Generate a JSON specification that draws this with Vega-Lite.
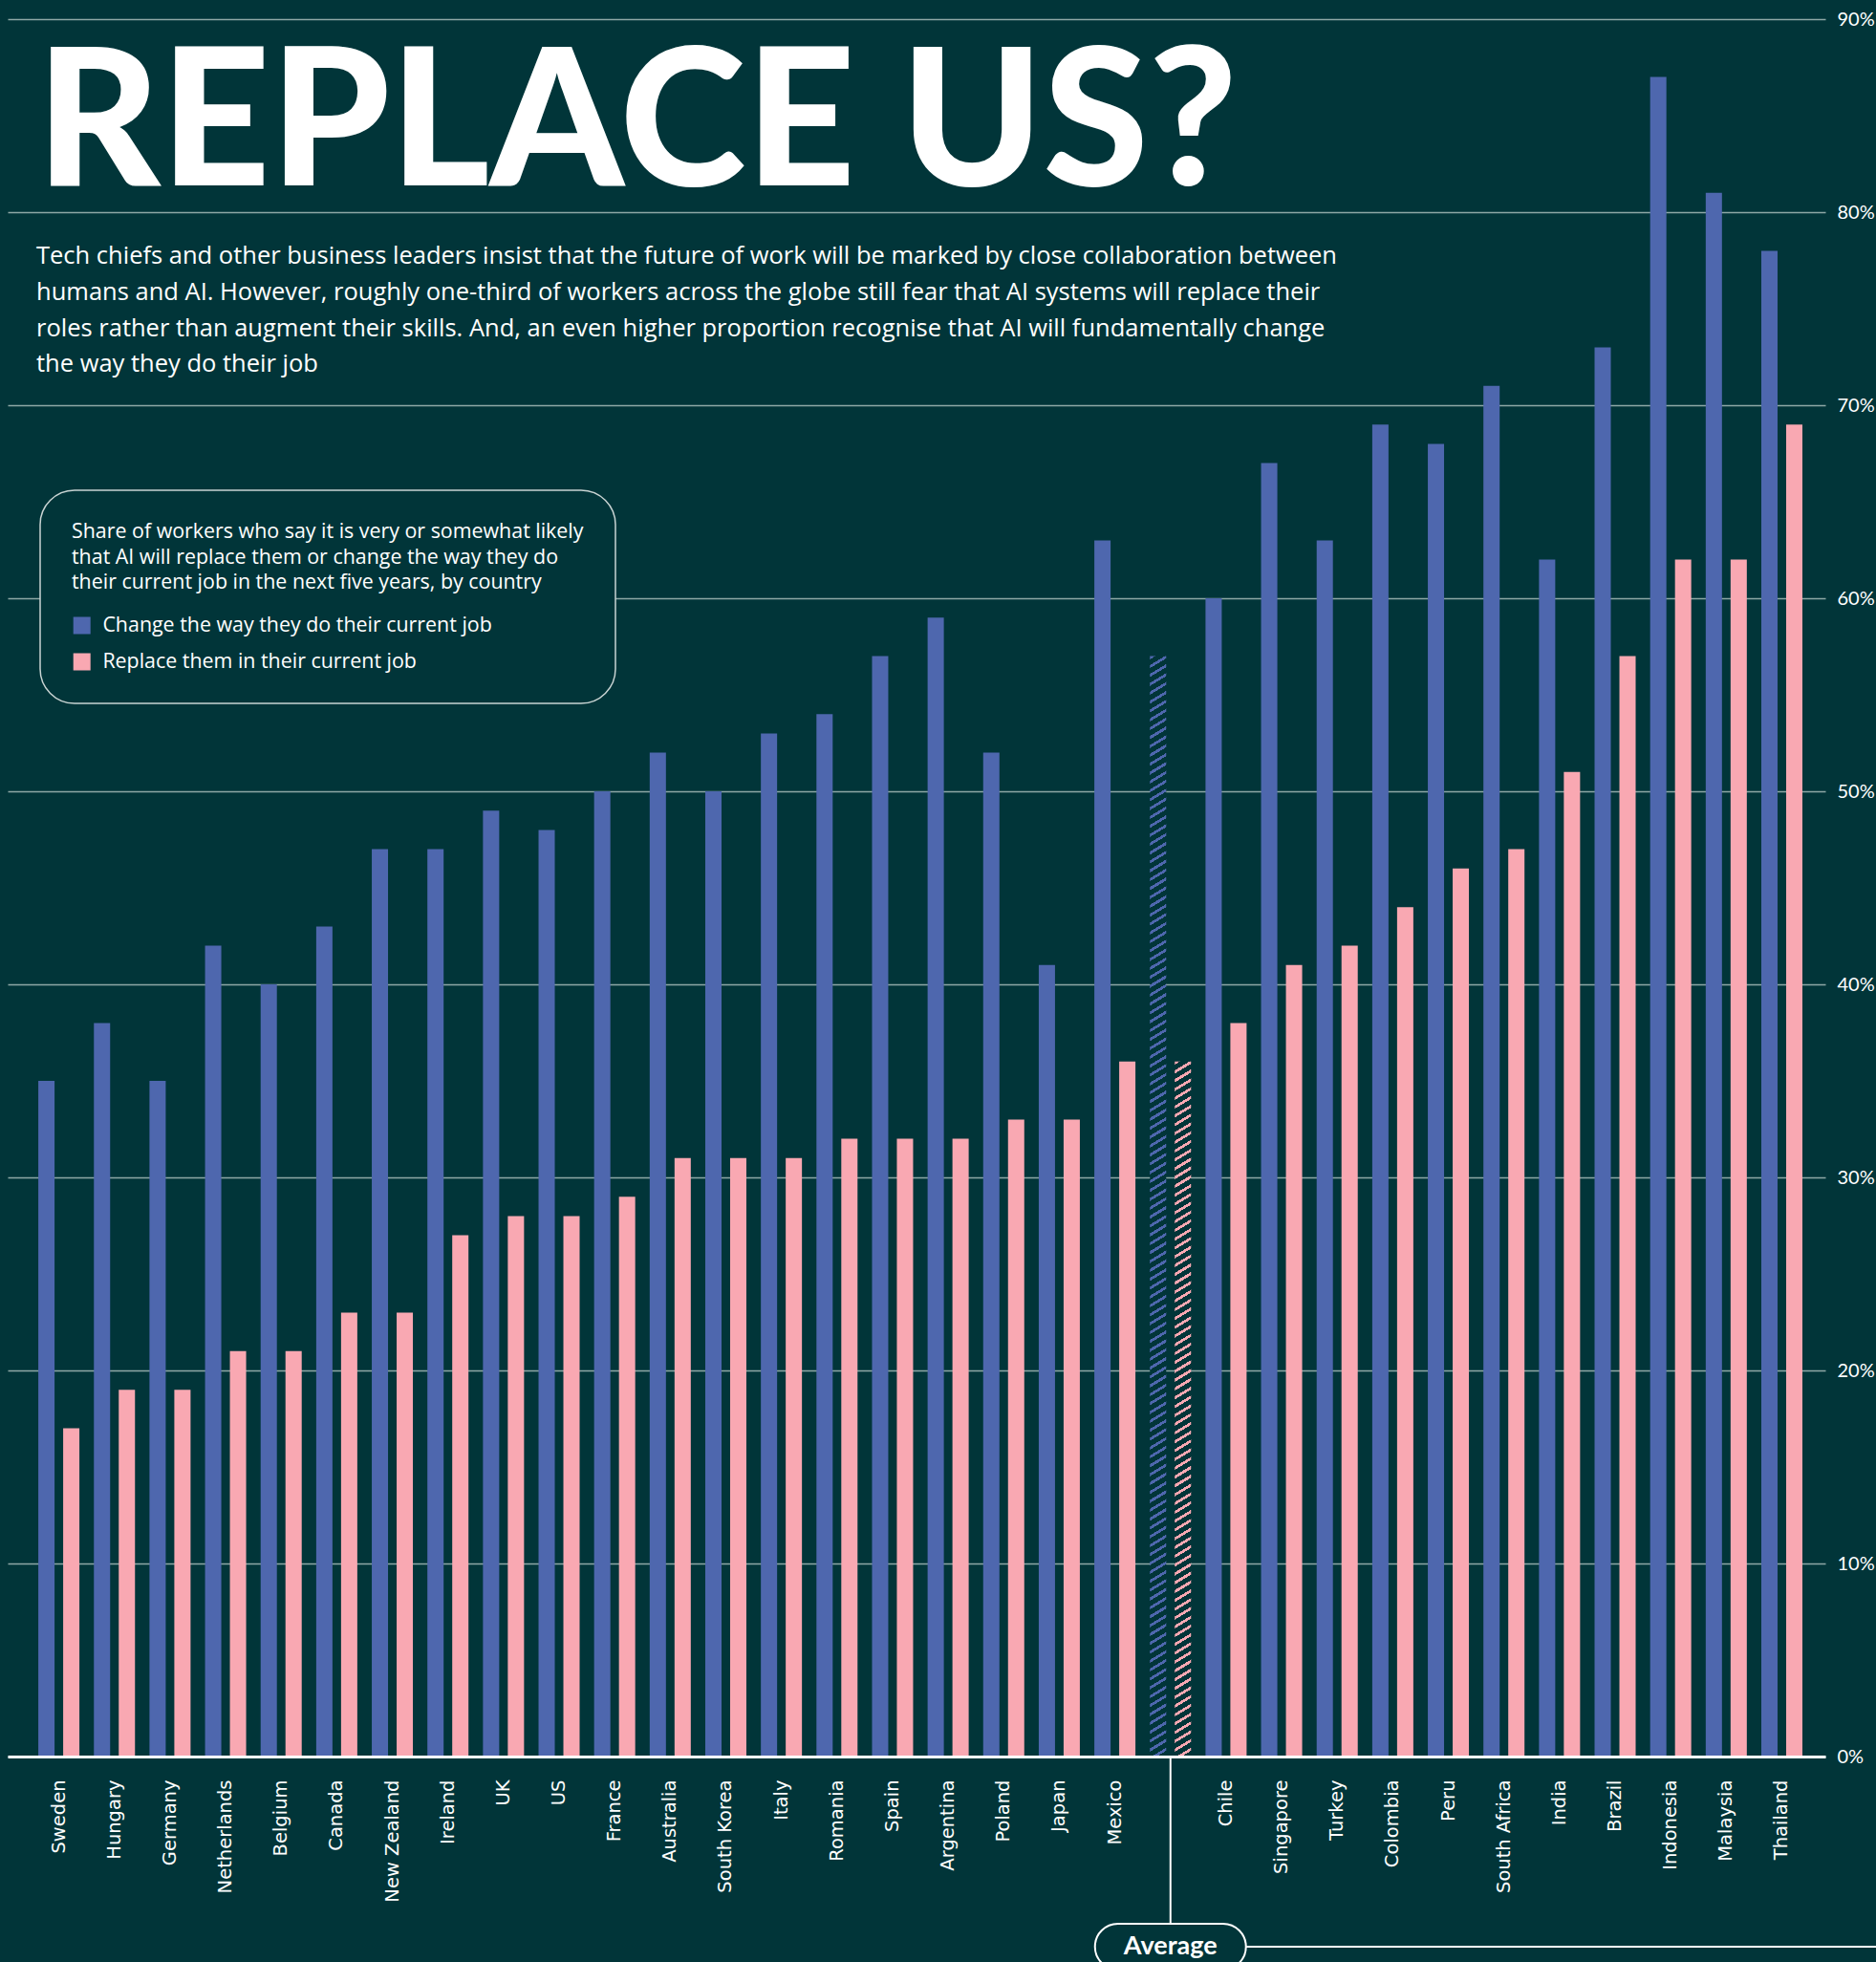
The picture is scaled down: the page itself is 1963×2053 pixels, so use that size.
{
  "$schema": "https://vega.github.io/schema/vega-lite/v6.json",
  "width": 1902,
  "height": 1818,
  "autosize": {"type": "none"},
  "padding": {"left": 8, "top": 20, "right": 53, "bottom": 215},
  "background": "#013539",
  "config": {"view": {"stroke": null}},
  "title": {
    "text": "REPLACE US?",
    "subtitle": [
      "Tech chiefs and other business leaders insist that the future of work will be marked by close collaboration between",
      "humans and AI. However, roughly one-third of workers across the globe still fear that AI systems will replace their",
      "roles rather than augment their skills. And, an even higher proportion recognise that AI will fundamentally change",
      "the way they do their job"
    ],
    "anchor": "start",
    "frame": "group",
    "orient": "top",
    "dx": 30,
    "dy": 387,
    "offset": 0,
    "font": "Lato",
    "fontSize": 200,
    "fontWeight": 900,
    "color": "#ffffff",
    "subtitleFont": "Open Sans",
    "subtitleFontSize": 25.5,
    "subtitleColor": "#ffffff",
    "subtitleLineHeight": 37.7,
    "subtitlePadding": 20
  },
  "data": {
    "values": [
      {"country": "Sweden", "change": 35, "replace": 17},
      {"country": "Hungary", "change": 38, "replace": 19},
      {"country": "Germany", "change": 35, "replace": 19},
      {"country": "Netherlands", "change": 42, "replace": 21},
      {"country": "Belgium", "change": 40, "replace": 21},
      {"country": "Canada", "change": 43, "replace": 23},
      {"country": "New Zealand", "change": 47, "replace": 23},
      {"country": "Ireland", "change": 47, "replace": 27},
      {"country": "UK", "change": 49, "replace": 28},
      {"country": "US", "change": 48, "replace": 28},
      {"country": "France", "change": 50, "replace": 29},
      {"country": "Australia", "change": 52, "replace": 31},
      {"country": "South Korea", "change": 50, "replace": 31},
      {"country": "Italy", "change": 53, "replace": 31},
      {"country": "Romania", "change": 54, "replace": 32},
      {"country": "Spain", "change": 57, "replace": 32},
      {"country": "Argentina", "change": 59, "replace": 32},
      {"country": "Poland", "change": 52, "replace": 33},
      {"country": "Japan", "change": 41, "replace": 33},
      {"country": "Mexico", "change": 63, "replace": 36},
      {"country": "Average", "change": 57, "replace": 36},
      {"country": "Chile", "change": 60, "replace": 38},
      {"country": "Singapore", "change": 67, "replace": 41},
      {"country": "Turkey", "change": 63, "replace": 42},
      {"country": "Colombia", "change": 69, "replace": 44},
      {"country": "Peru", "change": 68, "replace": 46},
      {"country": "South Africa", "change": 71, "replace": 47},
      {"country": "India", "change": 62, "replace": 51},
      {"country": "Brazil", "change": 73, "replace": 57},
      {"country": "Indonesia", "change": 87, "replace": 62},
      {"country": "Malaysia", "change": 81, "replace": 62},
      {"country": "Thailand", "change": 78, "replace": 69}
    ]
  },
  "transform": [{"fold": ["change", "replace"], "as": ["series", "value"]}],
  "encoding": {
    "x": {
      "field": "country",
      "type": "nominal",
      "sort": null,
      "scale": {
        "domain": ["Sweden", "Hungary", "Germany", "Netherlands", "Belgium", "Canada", "New Zealand", "Ireland", "UK", "US", "France", "Australia", "South Korea", "Italy", "Romania", "Spain", "Argentina", "Poland", "Japan", "Mexico", "Average", "Chile", "Singapore", "Turkey", "Colombia", "Peru", "South Africa", "India", "Brazil", "Indonesia", "Malaysia", "Thailand"],
        "paddingInner": 0.2607, "paddingOuter": 0.4823, "align": 0.572
      },
      "axis": {
        "title": null,
        "orient": "bottom",
        "labelAngle": -90,
        "labelAlign": "right",
        "labelBaseline": "middle",
        "labelPadding": 24,
        "ticks": false,
        "tickSize": 0,
        "domainColor": "#ffffff",
        "domainWidth": 3,
        "labelFont": "DejaVu Sans",
        "labelFontSize": 19.5,
        "labelColor": "#ffffff",
        "labelExpr": "datum.value === 'Average' ? '' : datum.value",
        "grid": false,
        "zindex": 1
      }
    },
    "y": {
      "field": "value",
      "type": "quantitative",
      "scale": {"domain": [0, 90], "nice": false},
      "axis": {
        "title": null,
        "orient": "right",
        "values": [0, 10, 20, 30, 40, 50, 60, 70, 80, 90],
        "labelExpr": "datum.value + '%'",
        "grid": true,
        "gridColor": "#8ea8a6",
        "gridWidth": 1.5,
        "domain": false,
        "ticks": false,
        "labelPadding": 12,
        "labelFont": "Lato",
        "labelFontSize": 20,
        "labelColor": "#ffffff",
        "labelBaseline": "middle"
      }
    }
  },
  "layer": [
    {
      "transform": [{"filter": "datum.country !== 'Average'"}],
      "mark": {"type": "bar"},
      "encoding": {
        "xOffset": {"field": "series", "type": "nominal", "scale": {"domain": ["change", "replace"], "paddingInner": 0.346, "paddingOuter": 0}},
        "color": {
          "field": "series",
          "type": "nominal",
          "scale": {"domain": ["change", "replace"], "range": ["#4e67ae", "#f9a8b2"]},
          "legend": {
            "orient": "none",
            "legendX": 34,
            "legendY": 493,
            "title": [
              "Share of workers who say it is very or somewhat likely",
              "that AI will replace them or change the way they do",
              "their current job in the next five years, by country"
            ],
            "titleFont": "Open Sans",
            "titleFontSize": 21.4,
            "titleFontWeight": "normal",
            "titleColor": "#ffffff",
            "titleLineHeight": 26.7,
            "titlePadding": 23,
            "titleLimit": 0,
            "labelFont": "Open Sans",
            "labelFontSize": 21.4,
            "labelColor": "#ffffff",
            "labelLimit": 0,
            "labelOffset": 11,
            "labelExpr": "datum.value === 'change' ? 'Change the way they do their current job' : 'Replace them in their current job'",
            "symbolType": "square",
            "symbolSize": 324,
            "symbolStrokeWidth": 0,
            "symbolOpacity": 1,
            "rowPadding": 15,
            "padding": 33,
            "cornerRadius": 36,
            "strokeColor": "#c9d4d3",
            "fillColor": "#013539",
            "encode": {"legend": {"update": {"strokeWidth": {"value": 1.5}}}}
          }
        }
      }
    },
    {
      "transform": [{"filter": "datum.country === 'Average' && datum.series === 'change'"}],
      "mark": {
        "type": "bar",
        "fill": {
          "gradient": "linear",
          "x1": 0, "y1": 0, "x2": 0.008936, "y2": 1.008779,
          "stops": [
            {"offset":0,"color":"#4e67ae"},{"offset":0.0028,"color":"#4e67ae"},{"offset":0.0028,"color":"#013539"},{"offset":0.008,"color":"#013539"},
            {"offset":0.008,"color":"#4e67ae"},{"offset":0.0108,"color":"#4e67ae"},{"offset":0.0108,"color":"#013539"},{"offset":0.016,"color":"#013539"},
            {"offset":0.016,"color":"#4e67ae"},{"offset":0.0188,"color":"#4e67ae"},{"offset":0.0188,"color":"#013539"},{"offset":0.024,"color":"#013539"},
            {"offset":0.024,"color":"#4e67ae"},{"offset":0.0268,"color":"#4e67ae"},{"offset":0.0268,"color":"#013539"},{"offset":0.032,"color":"#013539"},
            {"offset":0.032,"color":"#4e67ae"},{"offset":0.0348,"color":"#4e67ae"},{"offset":0.0348,"color":"#013539"},{"offset":0.04,"color":"#013539"},
            {"offset":0.04,"color":"#4e67ae"},{"offset":0.0428,"color":"#4e67ae"},{"offset":0.0428,"color":"#013539"},{"offset":0.048,"color":"#013539"},
            {"offset":0.048,"color":"#4e67ae"},{"offset":0.0508,"color":"#4e67ae"},{"offset":0.0508,"color":"#013539"},{"offset":0.056,"color":"#013539"},
            {"offset":0.056,"color":"#4e67ae"},{"offset":0.0588,"color":"#4e67ae"},{"offset":0.0588,"color":"#013539"},{"offset":0.064,"color":"#013539"},
            {"offset":0.064,"color":"#4e67ae"},{"offset":0.0668,"color":"#4e67ae"},{"offset":0.0668,"color":"#013539"},{"offset":0.072,"color":"#013539"},
            {"offset":0.072,"color":"#4e67ae"},{"offset":0.0748,"color":"#4e67ae"},{"offset":0.0748,"color":"#013539"},{"offset":0.08,"color":"#013539"},
            {"offset":0.08,"color":"#4e67ae"},{"offset":0.0828,"color":"#4e67ae"},{"offset":0.0828,"color":"#013539"},{"offset":0.088,"color":"#013539"},
            {"offset":0.088,"color":"#4e67ae"},{"offset":0.0908,"color":"#4e67ae"},{"offset":0.0908,"color":"#013539"},{"offset":0.096,"color":"#013539"},
            {"offset":0.096,"color":"#4e67ae"},{"offset":0.0988,"color":"#4e67ae"},{"offset":0.0988,"color":"#013539"},{"offset":0.104,"color":"#013539"},
            {"offset":0.104,"color":"#4e67ae"},{"offset":0.1068,"color":"#4e67ae"},{"offset":0.1068,"color":"#013539"},{"offset":0.112,"color":"#013539"},
            {"offset":0.112,"color":"#4e67ae"},{"offset":0.1148,"color":"#4e67ae"},{"offset":0.1148,"color":"#013539"},{"offset":0.12,"color":"#013539"},
            {"offset":0.12,"color":"#4e67ae"},{"offset":0.1228,"color":"#4e67ae"},{"offset":0.1228,"color":"#013539"},{"offset":0.128,"color":"#013539"},
            {"offset":0.128,"color":"#4e67ae"},{"offset":0.1308,"color":"#4e67ae"},{"offset":0.1308,"color":"#013539"},{"offset":0.136,"color":"#013539"},
            {"offset":0.136,"color":"#4e67ae"},{"offset":0.1388,"color":"#4e67ae"},{"offset":0.1388,"color":"#013539"},{"offset":0.144,"color":"#013539"},
            {"offset":0.144,"color":"#4e67ae"},{"offset":0.1468,"color":"#4e67ae"},{"offset":0.1468,"color":"#013539"},{"offset":0.152,"color":"#013539"},
            {"offset":0.152,"color":"#4e67ae"},{"offset":0.1548,"color":"#4e67ae"},{"offset":0.1548,"color":"#013539"},{"offset":0.16,"color":"#013539"},
            {"offset":0.16,"color":"#4e67ae"},{"offset":0.1628,"color":"#4e67ae"},{"offset":0.1628,"color":"#013539"},{"offset":0.168,"color":"#013539"},
            {"offset":0.168,"color":"#4e67ae"},{"offset":0.1708,"color":"#4e67ae"},{"offset":0.1708,"color":"#013539"},{"offset":0.176,"color":"#013539"},
            {"offset":0.176,"color":"#4e67ae"},{"offset":0.1788,"color":"#4e67ae"},{"offset":0.1788,"color":"#013539"},{"offset":0.184,"color":"#013539"},
            {"offset":0.184,"color":"#4e67ae"},{"offset":0.1868,"color":"#4e67ae"},{"offset":0.1868,"color":"#013539"},{"offset":0.192,"color":"#013539"},
            {"offset":0.192,"color":"#4e67ae"},{"offset":0.1948,"color":"#4e67ae"},{"offset":0.1948,"color":"#013539"},{"offset":0.2,"color":"#013539"},
            {"offset":0.2,"color":"#4e67ae"},{"offset":0.2028,"color":"#4e67ae"},{"offset":0.2028,"color":"#013539"},{"offset":0.208,"color":"#013539"},
            {"offset":0.208,"color":"#4e67ae"},{"offset":0.2108,"color":"#4e67ae"},{"offset":0.2108,"color":"#013539"},{"offset":0.216,"color":"#013539"},
            {"offset":0.216,"color":"#4e67ae"},{"offset":0.2188,"color":"#4e67ae"},{"offset":0.2188,"color":"#013539"},{"offset":0.224,"color":"#013539"},
            {"offset":0.224,"color":"#4e67ae"},{"offset":0.2268,"color":"#4e67ae"},{"offset":0.2268,"color":"#013539"},{"offset":0.232,"color":"#013539"},
            {"offset":0.232,"color":"#4e67ae"},{"offset":0.2348,"color":"#4e67ae"},{"offset":0.2348,"color":"#013539"},{"offset":0.24,"color":"#013539"},
            {"offset":0.24,"color":"#4e67ae"},{"offset":0.2428,"color":"#4e67ae"},{"offset":0.2428,"color":"#013539"},{"offset":0.248,"color":"#013539"},
            {"offset":0.248,"color":"#4e67ae"},{"offset":0.2508,"color":"#4e67ae"},{"offset":0.2508,"color":"#013539"},{"offset":0.256,"color":"#013539"},
            {"offset":0.256,"color":"#4e67ae"},{"offset":0.2588,"color":"#4e67ae"},{"offset":0.2588,"color":"#013539"},{"offset":0.264,"color":"#013539"},
            {"offset":0.264,"color":"#4e67ae"},{"offset":0.2668,"color":"#4e67ae"},{"offset":0.2668,"color":"#013539"},{"offset":0.272,"color":"#013539"},
            {"offset":0.272,"color":"#4e67ae"},{"offset":0.2748,"color":"#4e67ae"},{"offset":0.2748,"color":"#013539"},{"offset":0.28,"color":"#013539"},
            {"offset":0.28,"color":"#4e67ae"},{"offset":0.2828,"color":"#4e67ae"},{"offset":0.2828,"color":"#013539"},{"offset":0.288,"color":"#013539"},
            {"offset":0.288,"color":"#4e67ae"},{"offset":0.2908,"color":"#4e67ae"},{"offset":0.2908,"color":"#013539"},{"offset":0.296,"color":"#013539"},
            {"offset":0.296,"color":"#4e67ae"},{"offset":0.2988,"color":"#4e67ae"},{"offset":0.2988,"color":"#013539"},{"offset":0.304,"color":"#013539"},
            {"offset":0.304,"color":"#4e67ae"},{"offset":0.3068,"color":"#4e67ae"},{"offset":0.3068,"color":"#013539"},{"offset":0.312,"color":"#013539"},
            {"offset":0.312,"color":"#4e67ae"},{"offset":0.3148,"color":"#4e67ae"},{"offset":0.3148,"color":"#013539"},{"offset":0.32,"color":"#013539"},
            {"offset":0.32,"color":"#4e67ae"},{"offset":0.3228,"color":"#4e67ae"},{"offset":0.3228,"color":"#013539"},{"offset":0.328,"color":"#013539"},
            {"offset":0.328,"color":"#4e67ae"},{"offset":0.3308,"color":"#4e67ae"},{"offset":0.3308,"color":"#013539"},{"offset":0.336,"color":"#013539"},
            {"offset":0.336,"color":"#4e67ae"},{"offset":0.3388,"color":"#4e67ae"},{"offset":0.3388,"color":"#013539"},{"offset":0.344,"color":"#013539"},
            {"offset":0.344,"color":"#4e67ae"},{"offset":0.3468,"color":"#4e67ae"},{"offset":0.3468,"color":"#013539"},{"offset":0.352,"color":"#013539"},
            {"offset":0.352,"color":"#4e67ae"},{"offset":0.3548,"color":"#4e67ae"},{"offset":0.3548,"color":"#013539"},{"offset":0.36,"color":"#013539"},
            {"offset":0.36,"color":"#4e67ae"},{"offset":0.3628,"color":"#4e67ae"},{"offset":0.3628,"color":"#013539"},{"offset":0.368,"color":"#013539"},
            {"offset":0.368,"color":"#4e67ae"},{"offset":0.3708,"color":"#4e67ae"},{"offset":0.3708,"color":"#013539"},{"offset":0.376,"color":"#013539"},
            {"offset":0.376,"color":"#4e67ae"},{"offset":0.3788,"color":"#4e67ae"},{"offset":0.3788,"color":"#013539"},{"offset":0.384,"color":"#013539"},
            {"offset":0.384,"color":"#4e67ae"},{"offset":0.3868,"color":"#4e67ae"},{"offset":0.3868,"color":"#013539"},{"offset":0.392,"color":"#013539"},
            {"offset":0.392,"color":"#4e67ae"},{"offset":0.3948,"color":"#4e67ae"},{"offset":0.3948,"color":"#013539"},{"offset":0.4,"color":"#013539"},
            {"offset":0.4,"color":"#4e67ae"},{"offset":0.4028,"color":"#4e67ae"},{"offset":0.4028,"color":"#013539"},{"offset":0.408,"color":"#013539"},
            {"offset":0.408,"color":"#4e67ae"},{"offset":0.4108,"color":"#4e67ae"},{"offset":0.4108,"color":"#013539"},{"offset":0.416,"color":"#013539"},
            {"offset":0.416,"color":"#4e67ae"},{"offset":0.4188,"color":"#4e67ae"},{"offset":0.4188,"color":"#013539"},{"offset":0.424,"color":"#013539"},
            {"offset":0.424,"color":"#4e67ae"},{"offset":0.4268,"color":"#4e67ae"},{"offset":0.4268,"color":"#013539"},{"offset":0.432,"color":"#013539"},
            {"offset":0.432,"color":"#4e67ae"},{"offset":0.4348,"color":"#4e67ae"},{"offset":0.4348,"color":"#013539"},{"offset":0.44,"color":"#013539"},
            {"offset":0.44,"color":"#4e67ae"},{"offset":0.4428,"color":"#4e67ae"},{"offset":0.4428,"color":"#013539"},{"offset":0.448,"color":"#013539"},
            {"offset":0.448,"color":"#4e67ae"},{"offset":0.4508,"color":"#4e67ae"},{"offset":0.4508,"color":"#013539"},{"offset":0.456,"color":"#013539"},
            {"offset":0.456,"color":"#4e67ae"},{"offset":0.4588,"color":"#4e67ae"},{"offset":0.4588,"color":"#013539"},{"offset":0.464,"color":"#013539"},
            {"offset":0.464,"color":"#4e67ae"},{"offset":0.4668,"color":"#4e67ae"},{"offset":0.4668,"color":"#013539"},{"offset":0.472,"color":"#013539"},
            {"offset":0.472,"color":"#4e67ae"},{"offset":0.4748,"color":"#4e67ae"},{"offset":0.4748,"color":"#013539"},{"offset":0.48,"color":"#013539"},
            {"offset":0.48,"color":"#4e67ae"},{"offset":0.4828,"color":"#4e67ae"},{"offset":0.4828,"color":"#013539"},{"offset":0.488,"color":"#013539"},
            {"offset":0.488,"color":"#4e67ae"},{"offset":0.4908,"color":"#4e67ae"},{"offset":0.4908,"color":"#013539"},{"offset":0.496,"color":"#013539"},
            {"offset":0.496,"color":"#4e67ae"},{"offset":0.4988,"color":"#4e67ae"},{"offset":0.4988,"color":"#013539"},{"offset":0.504,"color":"#013539"},
            {"offset":0.504,"color":"#4e67ae"},{"offset":0.5068,"color":"#4e67ae"},{"offset":0.5068,"color":"#013539"},{"offset":0.512,"color":"#013539"},
            {"offset":0.512,"color":"#4e67ae"},{"offset":0.5148,"color":"#4e67ae"},{"offset":0.5148,"color":"#013539"},{"offset":0.52,"color":"#013539"},
            {"offset":0.52,"color":"#4e67ae"},{"offset":0.5228,"color":"#4e67ae"},{"offset":0.5228,"color":"#013539"},{"offset":0.528,"color":"#013539"},
            {"offset":0.528,"color":"#4e67ae"},{"offset":0.5308,"color":"#4e67ae"},{"offset":0.5308,"color":"#013539"},{"offset":0.536,"color":"#013539"},
            {"offset":0.536,"color":"#4e67ae"},{"offset":0.5388,"color":"#4e67ae"},{"offset":0.5388,"color":"#013539"},{"offset":0.544,"color":"#013539"},
            {"offset":0.544,"color":"#4e67ae"},{"offset":0.5468,"color":"#4e67ae"},{"offset":0.5468,"color":"#013539"},{"offset":0.552,"color":"#013539"},
            {"offset":0.552,"color":"#4e67ae"},{"offset":0.5548,"color":"#4e67ae"},{"offset":0.5548,"color":"#013539"},{"offset":0.56,"color":"#013539"},
            {"offset":0.56,"color":"#4e67ae"},{"offset":0.5628,"color":"#4e67ae"},{"offset":0.5628,"color":"#013539"},{"offset":0.568,"color":"#013539"},
            {"offset":0.568,"color":"#4e67ae"},{"offset":0.5708,"color":"#4e67ae"},{"offset":0.5708,"color":"#013539"},{"offset":0.576,"color":"#013539"},
            {"offset":0.576,"color":"#4e67ae"},{"offset":0.5788,"color":"#4e67ae"},{"offset":0.5788,"color":"#013539"},{"offset":0.584,"color":"#013539"},
            {"offset":0.584,"color":"#4e67ae"},{"offset":0.5868,"color":"#4e67ae"},{"offset":0.5868,"color":"#013539"},{"offset":0.592,"color":"#013539"},
            {"offset":0.592,"color":"#4e67ae"},{"offset":0.5948,"color":"#4e67ae"},{"offset":0.5948,"color":"#013539"},{"offset":0.6,"color":"#013539"},
            {"offset":0.6,"color":"#4e67ae"},{"offset":0.6028,"color":"#4e67ae"},{"offset":0.6028,"color":"#013539"},{"offset":0.608,"color":"#013539"},
            {"offset":0.608,"color":"#4e67ae"},{"offset":0.6108,"color":"#4e67ae"},{"offset":0.6108,"color":"#013539"},{"offset":0.616,"color":"#013539"},
            {"offset":0.616,"color":"#4e67ae"},{"offset":0.6188,"color":"#4e67ae"},{"offset":0.6188,"color":"#013539"},{"offset":0.624,"color":"#013539"},
            {"offset":0.624,"color":"#4e67ae"},{"offset":0.6268,"color":"#4e67ae"},{"offset":0.6268,"color":"#013539"},{"offset":0.632,"color":"#013539"},
            {"offset":0.632,"color":"#4e67ae"},{"offset":0.6348,"color":"#4e67ae"},{"offset":0.6348,"color":"#013539"},{"offset":0.64,"color":"#013539"},
            {"offset":0.64,"color":"#4e67ae"},{"offset":0.6428,"color":"#4e67ae"},{"offset":0.6428,"color":"#013539"},{"offset":0.648,"color":"#013539"},
            {"offset":0.648,"color":"#4e67ae"},{"offset":0.6508,"color":"#4e67ae"},{"offset":0.6508,"color":"#013539"},{"offset":0.656,"color":"#013539"},
            {"offset":0.656,"color":"#4e67ae"},{"offset":0.6588,"color":"#4e67ae"},{"offset":0.6588,"color":"#013539"},{"offset":0.664,"color":"#013539"},
            {"offset":0.664,"color":"#4e67ae"},{"offset":0.6668,"color":"#4e67ae"},{"offset":0.6668,"color":"#013539"},{"offset":0.672,"color":"#013539"},
            {"offset":0.672,"color":"#4e67ae"},{"offset":0.6748,"color":"#4e67ae"},{"offset":0.6748,"color":"#013539"},{"offset":0.68,"color":"#013539"},
            {"offset":0.68,"color":"#4e67ae"},{"offset":0.6828,"color":"#4e67ae"},{"offset":0.6828,"color":"#013539"},{"offset":0.688,"color":"#013539"},
            {"offset":0.688,"color":"#4e67ae"},{"offset":0.6908,"color":"#4e67ae"},{"offset":0.6908,"color":"#013539"},{"offset":0.696,"color":"#013539"},
            {"offset":0.696,"color":"#4e67ae"},{"offset":0.6988,"color":"#4e67ae"},{"offset":0.6988,"color":"#013539"},{"offset":0.704,"color":"#013539"},
            {"offset":0.704,"color":"#4e67ae"},{"offset":0.7068,"color":"#4e67ae"},{"offset":0.7068,"color":"#013539"},{"offset":0.712,"color":"#013539"},
            {"offset":0.712,"color":"#4e67ae"},{"offset":0.7148,"color":"#4e67ae"},{"offset":0.7148,"color":"#013539"},{"offset":0.72,"color":"#013539"},
            {"offset":0.72,"color":"#4e67ae"},{"offset":0.7228,"color":"#4e67ae"},{"offset":0.7228,"color":"#013539"},{"offset":0.728,"color":"#013539"},
            {"offset":0.728,"color":"#4e67ae"},{"offset":0.7308,"color":"#4e67ae"},{"offset":0.7308,"color":"#013539"},{"offset":0.736,"color":"#013539"},
            {"offset":0.736,"color":"#4e67ae"},{"offset":0.7388,"color":"#4e67ae"},{"offset":0.7388,"color":"#013539"},{"offset":0.744,"color":"#013539"},
            {"offset":0.744,"color":"#4e67ae"},{"offset":0.7468,"color":"#4e67ae"},{"offset":0.7468,"color":"#013539"},{"offset":0.752,"color":"#013539"},
            {"offset":0.752,"color":"#4e67ae"},{"offset":0.7548,"color":"#4e67ae"},{"offset":0.7548,"color":"#013539"},{"offset":0.76,"color":"#013539"},
            {"offset":0.76,"color":"#4e67ae"},{"offset":0.7628,"color":"#4e67ae"},{"offset":0.7628,"color":"#013539"},{"offset":0.768,"color":"#013539"},
            {"offset":0.768,"color":"#4e67ae"},{"offset":0.7708,"color":"#4e67ae"},{"offset":0.7708,"color":"#013539"},{"offset":0.776,"color":"#013539"},
            {"offset":0.776,"color":"#4e67ae"},{"offset":0.7788,"color":"#4e67ae"},{"offset":0.7788,"color":"#013539"},{"offset":0.784,"color":"#013539"},
            {"offset":0.784,"color":"#4e67ae"},{"offset":0.7868,"color":"#4e67ae"},{"offset":0.7868,"color":"#013539"},{"offset":0.792,"color":"#013539"},
            {"offset":0.792,"color":"#4e67ae"},{"offset":0.7948,"color":"#4e67ae"},{"offset":0.7948,"color":"#013539"},{"offset":0.8,"color":"#013539"},
            {"offset":0.8,"color":"#4e67ae"},{"offset":0.8028,"color":"#4e67ae"},{"offset":0.8028,"color":"#013539"},{"offset":0.808,"color":"#013539"},
            {"offset":0.808,"color":"#4e67ae"},{"offset":0.8108,"color":"#4e67ae"},{"offset":0.8108,"color":"#013539"},{"offset":0.816,"color":"#013539"},
            {"offset":0.816,"color":"#4e67ae"},{"offset":0.8188,"color":"#4e67ae"},{"offset":0.8188,"color":"#013539"},{"offset":0.824,"color":"#013539"},
            {"offset":0.824,"color":"#4e67ae"},{"offset":0.8268,"color":"#4e67ae"},{"offset":0.8268,"color":"#013539"},{"offset":0.832,"color":"#013539"},
            {"offset":0.832,"color":"#4e67ae"},{"offset":0.8348,"color":"#4e67ae"},{"offset":0.8348,"color":"#013539"},{"offset":0.84,"color":"#013539"},
            {"offset":0.84,"color":"#4e67ae"},{"offset":0.8428,"color":"#4e67ae"},{"offset":0.8428,"color":"#013539"},{"offset":0.848,"color":"#013539"},
            {"offset":0.848,"color":"#4e67ae"},{"offset":0.8508,"color":"#4e67ae"},{"offset":0.8508,"color":"#013539"},{"offset":0.856,"color":"#013539"},
            {"offset":0.856,"color":"#4e67ae"},{"offset":0.8588,"color":"#4e67ae"},{"offset":0.8588,"color":"#013539"},{"offset":0.864,"color":"#013539"},
            {"offset":0.864,"color":"#4e67ae"},{"offset":0.8668,"color":"#4e67ae"},{"offset":0.8668,"color":"#013539"},{"offset":0.872,"color":"#013539"},
            {"offset":0.872,"color":"#4e67ae"},{"offset":0.8748,"color":"#4e67ae"},{"offset":0.8748,"color":"#013539"},{"offset":0.88,"color":"#013539"},
            {"offset":0.88,"color":"#4e67ae"},{"offset":0.8828,"color":"#4e67ae"},{"offset":0.8828,"color":"#013539"},{"offset":0.888,"color":"#013539"},
            {"offset":0.888,"color":"#4e67ae"},{"offset":0.8908,"color":"#4e67ae"},{"offset":0.8908,"color":"#013539"},{"offset":0.896,"color":"#013539"},
            {"offset":0.896,"color":"#4e67ae"},{"offset":0.8988,"color":"#4e67ae"},{"offset":0.8988,"color":"#013539"},{"offset":0.904,"color":"#013539"},
            {"offset":0.904,"color":"#4e67ae"},{"offset":0.9068,"color":"#4e67ae"},{"offset":0.9068,"color":"#013539"},{"offset":0.912,"color":"#013539"},
            {"offset":0.912,"color":"#4e67ae"},{"offset":0.9148,"color":"#4e67ae"},{"offset":0.9148,"color":"#013539"},{"offset":0.92,"color":"#013539"},
            {"offset":0.92,"color":"#4e67ae"},{"offset":0.9228,"color":"#4e67ae"},{"offset":0.9228,"color":"#013539"},{"offset":0.928,"color":"#013539"},
            {"offset":0.928,"color":"#4e67ae"},{"offset":0.9308,"color":"#4e67ae"},{"offset":0.9308,"color":"#013539"},{"offset":0.936,"color":"#013539"},
            {"offset":0.936,"color":"#4e67ae"},{"offset":0.9388,"color":"#4e67ae"},{"offset":0.9388,"color":"#013539"},{"offset":0.944,"color":"#013539"},
            {"offset":0.944,"color":"#4e67ae"},{"offset":0.9468,"color":"#4e67ae"},{"offset":0.9468,"color":"#013539"},{"offset":0.952,"color":"#013539"},
            {"offset":0.952,"color":"#4e67ae"},{"offset":0.9548,"color":"#4e67ae"},{"offset":0.9548,"color":"#013539"},{"offset":0.96,"color":"#013539"},
            {"offset":0.96,"color":"#4e67ae"},{"offset":0.9628,"color":"#4e67ae"},{"offset":0.9628,"color":"#013539"},{"offset":0.968,"color":"#013539"},
            {"offset":0.968,"color":"#4e67ae"},{"offset":0.9708,"color":"#4e67ae"},{"offset":0.9708,"color":"#013539"},{"offset":0.976,"color":"#013539"},
            {"offset":0.976,"color":"#4e67ae"},{"offset":0.9788,"color":"#4e67ae"},{"offset":0.9788,"color":"#013539"},{"offset":0.984,"color":"#013539"},
            {"offset":0.984,"color":"#4e67ae"},{"offset":0.9868,"color":"#4e67ae"},{"offset":0.9868,"color":"#013539"},{"offset":0.992,"color":"#013539"},
            {"offset":0.992,"color":"#4e67ae"},{"offset":0.9948,"color":"#4e67ae"},{"offset":0.9948,"color":"#013539"},{"offset":1,"color":"#013539"}
          ]
        }
      },
      "encoding": {
        "xOffset": {"field": "series", "type": "nominal", "scale": {"domain": ["change", "replace"], "paddingInner": 0.346, "paddingOuter": 0}}
      }
    },
    {
      "transform": [{"filter": "datum.country === 'Average' && datum.series === 'replace'"}],
      "mark": {
        "type": "bar",
        "fill": {
          "gradient": "linear",
          "x1": 0, "y1": 0, "x2": 0.01422, "y2": 1.013827,
          "stops": [
            {"offset":0,"color":"#f9a8b2"},{"offset":0.0044,"color":"#f9a8b2"},{"offset":0.0044,"color":"#013539"},{"offset":0.0125,"color":"#013539"},
            {"offset":0.0125,"color":"#f9a8b2"},{"offset":0.0169,"color":"#f9a8b2"},{"offset":0.0169,"color":"#013539"},{"offset":0.025,"color":"#013539"},
            {"offset":0.025,"color":"#f9a8b2"},{"offset":0.0294,"color":"#f9a8b2"},{"offset":0.0294,"color":"#013539"},{"offset":0.0375,"color":"#013539"},
            {"offset":0.0375,"color":"#f9a8b2"},{"offset":0.0419,"color":"#f9a8b2"},{"offset":0.0419,"color":"#013539"},{"offset":0.05,"color":"#013539"},
            {"offset":0.05,"color":"#f9a8b2"},{"offset":0.0544,"color":"#f9a8b2"},{"offset":0.0544,"color":"#013539"},{"offset":0.0625,"color":"#013539"},
            {"offset":0.0625,"color":"#f9a8b2"},{"offset":0.0669,"color":"#f9a8b2"},{"offset":0.0669,"color":"#013539"},{"offset":0.075,"color":"#013539"},
            {"offset":0.075,"color":"#f9a8b2"},{"offset":0.0794,"color":"#f9a8b2"},{"offset":0.0794,"color":"#013539"},{"offset":0.0875,"color":"#013539"},
            {"offset":0.0875,"color":"#f9a8b2"},{"offset":0.0919,"color":"#f9a8b2"},{"offset":0.0919,"color":"#013539"},{"offset":0.1,"color":"#013539"},
            {"offset":0.1,"color":"#f9a8b2"},{"offset":0.1044,"color":"#f9a8b2"},{"offset":0.1044,"color":"#013539"},{"offset":0.1125,"color":"#013539"},
            {"offset":0.1125,"color":"#f9a8b2"},{"offset":0.1169,"color":"#f9a8b2"},{"offset":0.1169,"color":"#013539"},{"offset":0.125,"color":"#013539"},
            {"offset":0.125,"color":"#f9a8b2"},{"offset":0.1294,"color":"#f9a8b2"},{"offset":0.1294,"color":"#013539"},{"offset":0.1375,"color":"#013539"},
            {"offset":0.1375,"color":"#f9a8b2"},{"offset":0.1419,"color":"#f9a8b2"},{"offset":0.1419,"color":"#013539"},{"offset":0.15,"color":"#013539"},
            {"offset":0.15,"color":"#f9a8b2"},{"offset":0.1544,"color":"#f9a8b2"},{"offset":0.1544,"color":"#013539"},{"offset":0.1625,"color":"#013539"},
            {"offset":0.1625,"color":"#f9a8b2"},{"offset":0.1669,"color":"#f9a8b2"},{"offset":0.1669,"color":"#013539"},{"offset":0.175,"color":"#013539"},
            {"offset":0.175,"color":"#f9a8b2"},{"offset":0.1794,"color":"#f9a8b2"},{"offset":0.1794,"color":"#013539"},{"offset":0.1875,"color":"#013539"},
            {"offset":0.1875,"color":"#f9a8b2"},{"offset":0.1919,"color":"#f9a8b2"},{"offset":0.1919,"color":"#013539"},{"offset":0.2,"color":"#013539"},
            {"offset":0.2,"color":"#f9a8b2"},{"offset":0.2044,"color":"#f9a8b2"},{"offset":0.2044,"color":"#013539"},{"offset":0.2125,"color":"#013539"},
            {"offset":0.2125,"color":"#f9a8b2"},{"offset":0.2169,"color":"#f9a8b2"},{"offset":0.2169,"color":"#013539"},{"offset":0.225,"color":"#013539"},
            {"offset":0.225,"color":"#f9a8b2"},{"offset":0.2294,"color":"#f9a8b2"},{"offset":0.2294,"color":"#013539"},{"offset":0.2375,"color":"#013539"},
            {"offset":0.2375,"color":"#f9a8b2"},{"offset":0.2419,"color":"#f9a8b2"},{"offset":0.2419,"color":"#013539"},{"offset":0.25,"color":"#013539"},
            {"offset":0.25,"color":"#f9a8b2"},{"offset":0.2544,"color":"#f9a8b2"},{"offset":0.2544,"color":"#013539"},{"offset":0.2625,"color":"#013539"},
            {"offset":0.2625,"color":"#f9a8b2"},{"offset":0.2669,"color":"#f9a8b2"},{"offset":0.2669,"color":"#013539"},{"offset":0.275,"color":"#013539"},
            {"offset":0.275,"color":"#f9a8b2"},{"offset":0.2794,"color":"#f9a8b2"},{"offset":0.2794,"color":"#013539"},{"offset":0.2875,"color":"#013539"},
            {"offset":0.2875,"color":"#f9a8b2"},{"offset":0.2919,"color":"#f9a8b2"},{"offset":0.2919,"color":"#013539"},{"offset":0.3,"color":"#013539"},
            {"offset":0.3,"color":"#f9a8b2"},{"offset":0.3044,"color":"#f9a8b2"},{"offset":0.3044,"color":"#013539"},{"offset":0.3125,"color":"#013539"},
            {"offset":0.3125,"color":"#f9a8b2"},{"offset":0.3169,"color":"#f9a8b2"},{"offset":0.3169,"color":"#013539"},{"offset":0.325,"color":"#013539"},
            {"offset":0.325,"color":"#f9a8b2"},{"offset":0.3294,"color":"#f9a8b2"},{"offset":0.3294,"color":"#013539"},{"offset":0.3375,"color":"#013539"},
            {"offset":0.3375,"color":"#f9a8b2"},{"offset":0.3419,"color":"#f9a8b2"},{"offset":0.3419,"color":"#013539"},{"offset":0.35,"color":"#013539"},
            {"offset":0.35,"color":"#f9a8b2"},{"offset":0.3544,"color":"#f9a8b2"},{"offset":0.3544,"color":"#013539"},{"offset":0.3625,"color":"#013539"},
            {"offset":0.3625,"color":"#f9a8b2"},{"offset":0.3669,"color":"#f9a8b2"},{"offset":0.3669,"color":"#013539"},{"offset":0.375,"color":"#013539"},
            {"offset":0.375,"color":"#f9a8b2"},{"offset":0.3794,"color":"#f9a8b2"},{"offset":0.3794,"color":"#013539"},{"offset":0.3875,"color":"#013539"},
            {"offset":0.3875,"color":"#f9a8b2"},{"offset":0.3919,"color":"#f9a8b2"},{"offset":0.3919,"color":"#013539"},{"offset":0.4,"color":"#013539"},
            {"offset":0.4,"color":"#f9a8b2"},{"offset":0.4044,"color":"#f9a8b2"},{"offset":0.4044,"color":"#013539"},{"offset":0.4125,"color":"#013539"},
            {"offset":0.4125,"color":"#f9a8b2"},{"offset":0.4169,"color":"#f9a8b2"},{"offset":0.4169,"color":"#013539"},{"offset":0.425,"color":"#013539"},
            {"offset":0.425,"color":"#f9a8b2"},{"offset":0.4294,"color":"#f9a8b2"},{"offset":0.4294,"color":"#013539"},{"offset":0.4375,"color":"#013539"},
            {"offset":0.4375,"color":"#f9a8b2"},{"offset":0.4419,"color":"#f9a8b2"},{"offset":0.4419,"color":"#013539"},{"offset":0.45,"color":"#013539"},
            {"offset":0.45,"color":"#f9a8b2"},{"offset":0.4544,"color":"#f9a8b2"},{"offset":0.4544,"color":"#013539"},{"offset":0.4625,"color":"#013539"},
            {"offset":0.4625,"color":"#f9a8b2"},{"offset":0.4669,"color":"#f9a8b2"},{"offset":0.4669,"color":"#013539"},{"offset":0.475,"color":"#013539"},
            {"offset":0.475,"color":"#f9a8b2"},{"offset":0.4794,"color":"#f9a8b2"},{"offset":0.4794,"color":"#013539"},{"offset":0.4875,"color":"#013539"},
            {"offset":0.4875,"color":"#f9a8b2"},{"offset":0.4919,"color":"#f9a8b2"},{"offset":0.4919,"color":"#013539"},{"offset":0.5,"color":"#013539"},
            {"offset":0.5,"color":"#f9a8b2"},{"offset":0.5044,"color":"#f9a8b2"},{"offset":0.5044,"color":"#013539"},{"offset":0.5125,"color":"#013539"},
            {"offset":0.5125,"color":"#f9a8b2"},{"offset":0.5169,"color":"#f9a8b2"},{"offset":0.5169,"color":"#013539"},{"offset":0.525,"color":"#013539"},
            {"offset":0.525,"color":"#f9a8b2"},{"offset":0.5294,"color":"#f9a8b2"},{"offset":0.5294,"color":"#013539"},{"offset":0.5375,"color":"#013539"},
            {"offset":0.5375,"color":"#f9a8b2"},{"offset":0.5419,"color":"#f9a8b2"},{"offset":0.5419,"color":"#013539"},{"offset":0.55,"color":"#013539"},
            {"offset":0.55,"color":"#f9a8b2"},{"offset":0.5544,"color":"#f9a8b2"},{"offset":0.5544,"color":"#013539"},{"offset":0.5625,"color":"#013539"},
            {"offset":0.5625,"color":"#f9a8b2"},{"offset":0.5669,"color":"#f9a8b2"},{"offset":0.5669,"color":"#013539"},{"offset":0.575,"color":"#013539"},
            {"offset":0.575,"color":"#f9a8b2"},{"offset":0.5794,"color":"#f9a8b2"},{"offset":0.5794,"color":"#013539"},{"offset":0.5875,"color":"#013539"},
            {"offset":0.5875,"color":"#f9a8b2"},{"offset":0.5919,"color":"#f9a8b2"},{"offset":0.5919,"color":"#013539"},{"offset":0.6,"color":"#013539"},
            {"offset":0.6,"color":"#f9a8b2"},{"offset":0.6044,"color":"#f9a8b2"},{"offset":0.6044,"color":"#013539"},{"offset":0.6125,"color":"#013539"},
            {"offset":0.6125,"color":"#f9a8b2"},{"offset":0.6169,"color":"#f9a8b2"},{"offset":0.6169,"color":"#013539"},{"offset":0.625,"color":"#013539"},
            {"offset":0.625,"color":"#f9a8b2"},{"offset":0.6294,"color":"#f9a8b2"},{"offset":0.6294,"color":"#013539"},{"offset":0.6375,"color":"#013539"},
            {"offset":0.6375,"color":"#f9a8b2"},{"offset":0.6419,"color":"#f9a8b2"},{"offset":0.6419,"color":"#013539"},{"offset":0.65,"color":"#013539"},
            {"offset":0.65,"color":"#f9a8b2"},{"offset":0.6544,"color":"#f9a8b2"},{"offset":0.6544,"color":"#013539"},{"offset":0.6625,"color":"#013539"},
            {"offset":0.6625,"color":"#f9a8b2"},{"offset":0.6669,"color":"#f9a8b2"},{"offset":0.6669,"color":"#013539"},{"offset":0.675,"color":"#013539"},
            {"offset":0.675,"color":"#f9a8b2"},{"offset":0.6794,"color":"#f9a8b2"},{"offset":0.6794,"color":"#013539"},{"offset":0.6875,"color":"#013539"},
            {"offset":0.6875,"color":"#f9a8b2"},{"offset":0.6919,"color":"#f9a8b2"},{"offset":0.6919,"color":"#013539"},{"offset":0.7,"color":"#013539"},
            {"offset":0.7,"color":"#f9a8b2"},{"offset":0.7044,"color":"#f9a8b2"},{"offset":0.7044,"color":"#013539"},{"offset":0.7125,"color":"#013539"},
            {"offset":0.7125,"color":"#f9a8b2"},{"offset":0.7169,"color":"#f9a8b2"},{"offset":0.7169,"color":"#013539"},{"offset":0.725,"color":"#013539"},
            {"offset":0.725,"color":"#f9a8b2"},{"offset":0.7294,"color":"#f9a8b2"},{"offset":0.7294,"color":"#013539"},{"offset":0.7375,"color":"#013539"},
            {"offset":0.7375,"color":"#f9a8b2"},{"offset":0.7419,"color":"#f9a8b2"},{"offset":0.7419,"color":"#013539"},{"offset":0.75,"color":"#013539"},
            {"offset":0.75,"color":"#f9a8b2"},{"offset":0.7544,"color":"#f9a8b2"},{"offset":0.7544,"color":"#013539"},{"offset":0.7625,"color":"#013539"},
            {"offset":0.7625,"color":"#f9a8b2"},{"offset":0.7669,"color":"#f9a8b2"},{"offset":0.7669,"color":"#013539"},{"offset":0.775,"color":"#013539"},
            {"offset":0.775,"color":"#f9a8b2"},{"offset":0.7794,"color":"#f9a8b2"},{"offset":0.7794,"color":"#013539"},{"offset":0.7875,"color":"#013539"},
            {"offset":0.7875,"color":"#f9a8b2"},{"offset":0.7919,"color":"#f9a8b2"},{"offset":0.7919,"color":"#013539"},{"offset":0.8,"color":"#013539"},
            {"offset":0.8,"color":"#f9a8b2"},{"offset":0.8044,"color":"#f9a8b2"},{"offset":0.8044,"color":"#013539"},{"offset":0.8125,"color":"#013539"},
            {"offset":0.8125,"color":"#f9a8b2"},{"offset":0.8169,"color":"#f9a8b2"},{"offset":0.8169,"color":"#013539"},{"offset":0.825,"color":"#013539"},
            {"offset":0.825,"color":"#f9a8b2"},{"offset":0.8294,"color":"#f9a8b2"},{"offset":0.8294,"color":"#013539"},{"offset":0.8375,"color":"#013539"},
            {"offset":0.8375,"color":"#f9a8b2"},{"offset":0.8419,"color":"#f9a8b2"},{"offset":0.8419,"color":"#013539"},{"offset":0.85,"color":"#013539"},
            {"offset":0.85,"color":"#f9a8b2"},{"offset":0.8544,"color":"#f9a8b2"},{"offset":0.8544,"color":"#013539"},{"offset":0.8625,"color":"#013539"},
            {"offset":0.8625,"color":"#f9a8b2"},{"offset":0.8669,"color":"#f9a8b2"},{"offset":0.8669,"color":"#013539"},{"offset":0.875,"color":"#013539"},
            {"offset":0.875,"color":"#f9a8b2"},{"offset":0.8794,"color":"#f9a8b2"},{"offset":0.8794,"color":"#013539"},{"offset":0.8875,"color":"#013539"},
            {"offset":0.8875,"color":"#f9a8b2"},{"offset":0.8919,"color":"#f9a8b2"},{"offset":0.8919,"color":"#013539"},{"offset":0.9,"color":"#013539"},
            {"offset":0.9,"color":"#f9a8b2"},{"offset":0.9044,"color":"#f9a8b2"},{"offset":0.9044,"color":"#013539"},{"offset":0.9125,"color":"#013539"},
            {"offset":0.9125,"color":"#f9a8b2"},{"offset":0.9169,"color":"#f9a8b2"},{"offset":0.9169,"color":"#013539"},{"offset":0.925,"color":"#013539"},
            {"offset":0.925,"color":"#f9a8b2"},{"offset":0.9294,"color":"#f9a8b2"},{"offset":0.9294,"color":"#013539"},{"offset":0.9375,"color":"#013539"},
            {"offset":0.9375,"color":"#f9a8b2"},{"offset":0.9419,"color":"#f9a8b2"},{"offset":0.9419,"color":"#013539"},{"offset":0.95,"color":"#013539"},
            {"offset":0.95,"color":"#f9a8b2"},{"offset":0.9544,"color":"#f9a8b2"},{"offset":0.9544,"color":"#013539"},{"offset":0.9625,"color":"#013539"},
            {"offset":0.9625,"color":"#f9a8b2"},{"offset":0.9669,"color":"#f9a8b2"},{"offset":0.9669,"color":"#013539"},{"offset":0.975,"color":"#013539"},
            {"offset":0.975,"color":"#f9a8b2"},{"offset":0.9794,"color":"#f9a8b2"},{"offset":0.9794,"color":"#013539"},{"offset":0.9875,"color":"#013539"},
            {"offset":0.9875,"color":"#f9a8b2"},{"offset":0.9919,"color":"#f9a8b2"},{"offset":0.9919,"color":"#013539"},{"offset":1,"color":"#013539"}
          ]
        }
      },
      "encoding": {
        "xOffset": {"field": "series", "type": "nominal", "scale": {"domain": ["change", "replace"], "paddingInner": 0.346, "paddingOuter": 0}}
      }
    },
    {
      "transform": [{"filter": "datum.country === 'Average' && datum.series === 'change'"}],
      "mark": {
        "type": "point",
        "shape": "M0,2L0,175M-55,175L55,175A24,24 0 0 1 79,199A24,24 0 0 1 55,223L-55,223A24,24 0 0 1 -79,199A24,24 0 0 1 -55,175ZM79,199L760,199",
        "size": 4,
        "filled": false,
        "color": "#ffffff",
        "stroke": "#ffffff",
        "strokeWidth": 2,
        "opacity": 1
      },
      "encoding": {
        "y": {
          "datum": 0,
          "type": "quantitative",
          "axis": {
            "title": null,
            "orient": "right",
            "values": [0, 10, 20, 30, 40, 50, 60, 70, 80, 90],
            "labelExpr": "datum.value + '%'",
            "grid": true,
            "gridColor": "#8ea8a6",
            "gridWidth": 1.5,
            "domain": false,
            "ticks": false,
            "labelPadding": 12,
            "labelFont": "Lato",
            "labelFontSize": 20,
            "labelColor": "#ffffff",
            "labelBaseline": "middle"
          }
        }
      }
    },
    {
      "transform": [{"filter": "datum.country === 'Average' && datum.series === 'change'"}],
      "mark": {"type": "text", "dy": 199, "font": "Lato", "fontSize": 27, "fontWeight": "bold", "color": "#ffffff", "baseline": "middle", "align": "center"},
      "encoding": {
        "y": {
          "datum": 0,
          "type": "quantitative",
          "axis": {
            "title": null,
            "orient": "right",
            "values": [0, 10, 20, 30, 40, 50, 60, 70, 80, 90],
            "labelExpr": "datum.value + '%'",
            "grid": true,
            "gridColor": "#8ea8a6",
            "gridWidth": 1.5,
            "domain": false,
            "ticks": false,
            "labelPadding": 12,
            "labelFont": "Lato",
            "labelFontSize": 20,
            "labelColor": "#ffffff",
            "labelBaseline": "middle"
          }
        },
        "text": {"field": "country"}
      }
    }
  ]
}
